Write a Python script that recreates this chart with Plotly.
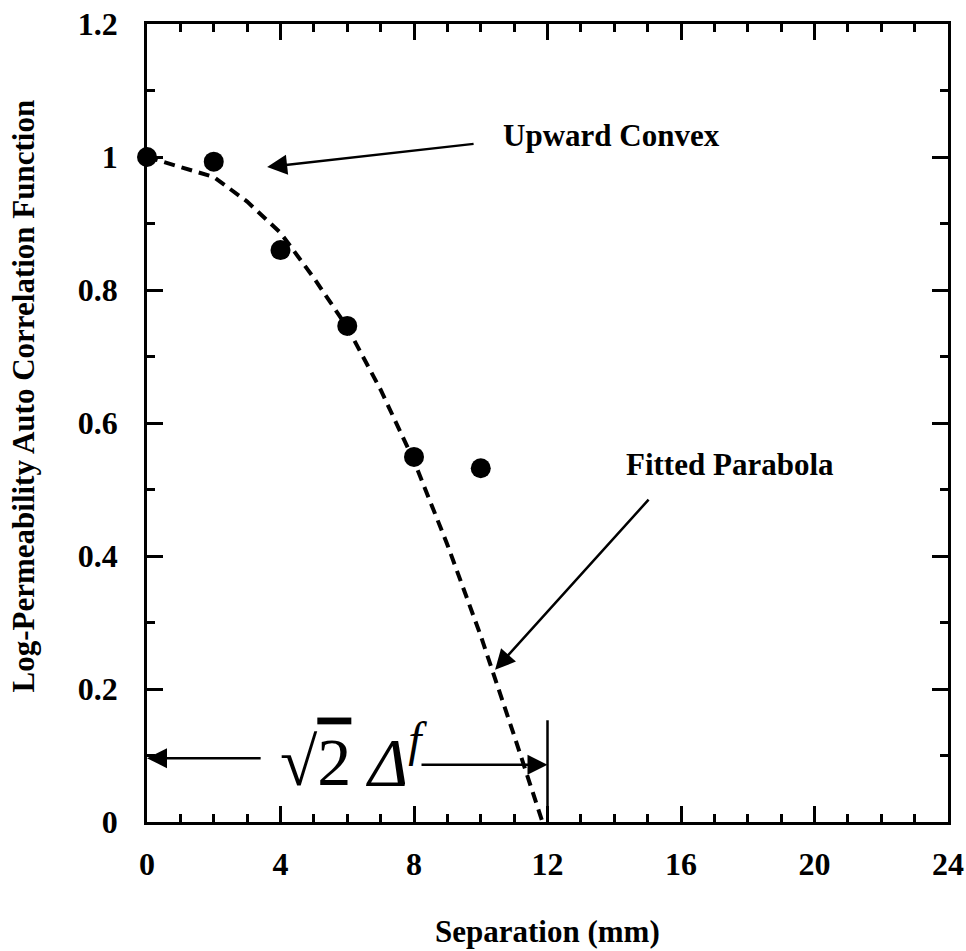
import plotly.graph_objects as go

# Measured data points
sep_mm = [0, 2, 4, 6, 8, 10]
acf = [1.0, 0.993, 0.860, 0.746, 0.549, 0.532]

# Fitted parabola
fit_x = [0, 1, 2, 3, 4, 5, 6, 7, 8, 9, 10, 11, 11.85]
fit_y = [1.0, 0.985, 0.97, 0.933, 0.886, 0.818, 0.744, 0.65, 0.543, 0.417, 0.28, 0.13, 0.0]

# Range marker (sqrt(2) * Delta^f) at x = 12
marker_x = [12, 12]
marker_y = [0, 0.153]

x_ticks = [0, 4, 8, 12, 16, 20, 24]
y_ticks = [0, 0.2, 0.4, 0.6, 0.8, 1.0, 1.2]

FONT = "Liberation Serif"

fig = go.Figure()
fig.add_trace(go.Scatter(x=fit_x, y=fit_y, mode="lines",
                         line=dict(color="black", width=4, dash="11px,7px"),
                         showlegend=False, cliponaxis=False))
fig.add_trace(go.Scatter(x=marker_x, y=marker_y, mode="lines",
                         line=dict(color="black", width=2.5),
                         showlegend=False))
fig.add_trace(go.Scatter(x=sep_mm, y=acf, mode="markers",
                         marker=dict(color="black", size=20),
                         showlegend=False, cliponaxis=False))

axis_common = dict(showline=True, linecolor="black", linewidth=2.5, mirror="allticks",
                   ticks="inside", ticklen=16, tickwidth=2.5, tickcolor="black",
                   showgrid=False, zeroline=False, automargin=False,
                   tickfont=dict(family=FONT, size=32, color="black", weight="bold"))

fig.update_xaxes(range=[0, 24], tickvals=x_ticks, ticklabelstandoff=12,
                 minor=dict(dtick=1, ticks="inside", ticklen=8, tickwidth=2.5, tickcolor="black"),
                 **axis_common)
fig.update_yaxes(range=[0, 1.2], tickvals=y_ticks, ticklabelstandoff=20,
                 minor=dict(dtick=0.1, ticks="inside", ticklen=8, tickwidth=2.5, tickcolor="black"),
                 **axis_common)

ann_font = dict(family=FONT, size=31, color="black", weight="bold")
annotations = [
    # axis titles
    dict(text="Separation (mm)", x=0.5, y=-0.137, xref="paper", yref="paper",
         showarrow=False, xanchor="center", yanchor="middle",
         font=dict(family=FONT, size=31, color="black", weight="bold")),
    dict(text="Log-Permeability Auto Correlation Function", x=-0.154, y=0.534,
         xref="paper", yref="paper", textangle=-90, showarrow=False,
         xanchor="center", yanchor="middle",
         font=dict(family=FONT, size=31, color="black", weight="bold")),
    # labels
    dict(text="Upward Convex", x=10.6, y=1.033, xref="x", yref="y", showarrow=False,
         xanchor="left", yanchor="middle", font=ann_font),
    dict(text="Fitted Parabola", x=14.3, y=0.537, xref="x", yref="y", showarrow=False,
         xanchor="left", yanchor="middle", font=ann_font),
    # arrows
    dict(text="", x=3.6, y=0.985, ax=9.83, ay=1.02, xref="x", yref="y", axref="x", ayref="y",
         showarrow=True, arrowhead=2, arrowsize=1.6, arrowwidth=2.5, arrowcolor="black", standoff=0),
    dict(text="", x=10.43, y=0.229, ax=15.07, ay=0.487, xref="x", yref="y", axref="x", ayref="y",
         showarrow=True, arrowhead=2, arrowsize=1.6, arrowwidth=2.5, arrowcolor="black", standoff=0),
    dict(text="", x=0.0, y=0.096, ax=3.45, ay=0.096, xref="x", yref="y", axref="x", ayref="y",
         showarrow=True, arrowhead=2, arrowsize=1.6, arrowwidth=2.5, arrowcolor="black", standoff=0),
    dict(text="", x=12.0, y=0.086, ax=8.18, ay=0.086, xref="x", yref="y", axref="x", ayref="y",
         showarrow=True, arrowhead=2, arrowsize=1.6, arrowwidth=2.5, arrowcolor="black", standoff=0),
    # sqrt(2) Delta^f label
    dict(text="√<span style='text-decoration:overline'>2</span> <i>Δ</i><sup><i>f</i></sup>",
         x=6.2, y=0.098, xref="x", yref="y", showarrow=False,
         xanchor="center", yanchor="middle",
         font=dict(family=FONT, size=68, color="black")),
]

fig.update_layout(width=966, height=951,
                  margin=dict(l=147, r=18, t=24, b=129),
                  plot_bgcolor="white", paper_bgcolor="white",
                  annotations=annotations, showlegend=False)

# remove the default page-body margin so the figure fills the window exactly
fig.write_html("out.html", config={"displayModeBar": False},
               post_script="document.body.style.margin='0';")
